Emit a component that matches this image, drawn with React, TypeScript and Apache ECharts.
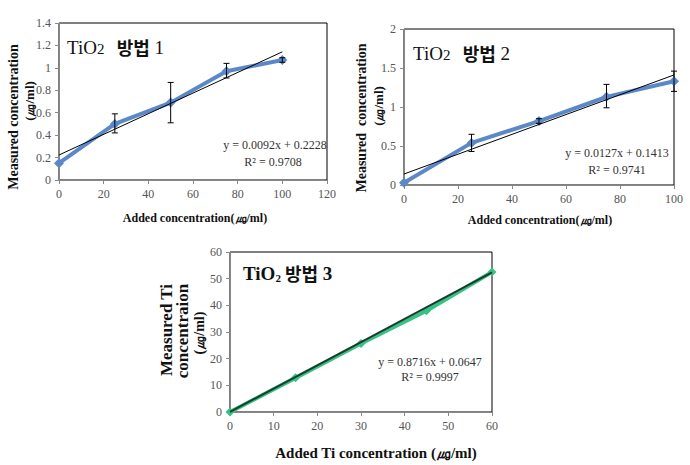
import React, { useEffect, useRef } from "react";
import * as echarts from "echarts";

// Chart 1 (TiO2 방법 1)
const x1 = [0, 25, 50, 75, 100];
const y1 = [0.15, 0.5, 0.69, 0.97, 1.07];
const err1 = [
  [25, 0.42, 0.59],
  [50, 0.51, 0.87],
  [75, 0.91, 1.04],
  [100, 1.05, 1.09],
];
const trend1 = [
  [0, 0.223],
  [100, 1.143],
];
const xTicks1 = [0, 120, 20];
const yTicks1 = [0, 1.4, 0.2];

// Chart 2 (TiO2 방법 2)
const x2 = [0, 25, 50, 75, 100];
const y2 = [0.03, 0.54, 0.82, 1.13, 1.33];
const err2 = [
  [25, 0.43, 0.65],
  [50, 0.79, 0.85],
  [75, 0.99, 1.29],
  [100, 1.2, 1.46],
];
const trend2 = [
  [0, 0.141],
  [100, 1.411],
];
const xTicks2 = [0, 100, 20];
const yTicks2 = [0, 2, 0.5];

// Chart 3 (TiO2 방법 3)
const x3 = [0, 15, 30, 45, 60];
const y3 = [0, 12.8, 25.7, 38.0, 52.5];
const trend3 = [
  [0, 0.065],
  [60, 52.36],
];
const xTicks3 = [0, 60, 10];
const yTicks3 = [0, 60, 10];

const eq1 = ["y = 0.0092x + 0.2228", "R² = 0.9708"];
const eq2 = ["y = 0.0127x + 0.1413", "R² = 0.9741"];
const eq3 = ["y = 0.8716x + 0.0647", "R² = 0.9997"];

const SERIF = "'Liberation Serif', 'Times New Roman', serif";
const KR = "'Noto Sans CJK KR', sans-serif";

const zip = (xs: number[], ys: number[]) => xs.map((x, i) => [x, ys[i]]);

const errRender = (params: any, api: any) => {
  const x = api.value(0);
  const lo = api.value(1);
  const hi = api.value(2);
  const p1 = api.coord([x, lo]);
  const p2 = api.coord([x, hi]);
  const w = 3;
  const st = { stroke: "#000", lineWidth: 1 };
  return {
    type: "group",
    children: [
      { type: "line", shape: { x1: p1[0], y1: p1[1], x2: p2[0], y2: p2[1] }, style: st },
      { type: "line", shape: { x1: p1[0] - w, y1: p1[1], x2: p1[0] + w, y2: p1[1] }, style: st },
      { type: "line", shape: { x1: p2[0] - w, y1: p2[1], x2: p2[0] + w, y2: p2[1] }, style: st },
    ],
  };
};

const mkX = (idx: number, t: number[]) => ({
  type: "value",
  gridIndex: idx,
  min: t[0],
  max: t[1],
  interval: t[2],
  axisLine: { show: true, lineStyle: { color: "#888", width: 1 } },
  axisTick: { show: true, length: 4, lineStyle: { color: "#888" } },
  splitLine: { show: false },
  axisLabel: { color: "#555", fontFamily: SERIF, fontSize: 12, margin: 8 },
});
const mkY = (idx: number, t: number[]) => ({
  type: "value",
  gridIndex: idx,
  min: t[0],
  max: t[1],
  interval: t[2],
  axisLine: { show: true, lineStyle: { color: "#888", width: 1 } },
  axisTick: { show: true, length: 4, lineStyle: { color: "#888" } },
  splitLine: { show: false },
  axisLabel: { color: "#555", fontFamily: SERIF, fontSize: 12, margin: 8 },
});

const rot = (x: number, y: number, text: string, font: string) => ({
  type: "text",
  x,
  y,
  rotation: Math.PI / 2,
  style: { text, font, fill: "#111", align: "center", verticalAlign: "middle" },
});
const txt = (x: number, y: number, text: string, font: string, fill = "#111") => ({
  type: "text",
  x,
  y,
  style: { text, font, fill, align: "center", verticalAlign: "middle" },
});

const title = (x: number, y: number, n: string, bold: boolean, gap: string) => ({
  type: "text",
  x,
  y,
  style: {
    text: `{a|TiO}{s|2}{b|${gap}방법}{c| ${n}}`,
    align: "left",
    verticalAlign: "middle",
    rich: {
      a: { fontFamily: SERIF, fontSize: 19, fontWeight: bold ? "bold" : "normal", fill: "#111" },
      s: {
        fontFamily: SERIF,
        fontSize: bold ? 11 : 15,
        fontWeight: bold ? "bold" : "normal",
        fill: "#111",
        padding: bold ? [10, 0, 0, 0] : [3, 0, 0, 0],
      },
      b: { fontFamily: KR, fontSize: 18, fontWeight: "bold", fill: "#111" },
      c: { fontFamily: SERIF, fontSize: 19, fontWeight: bold ? "bold" : "normal", fill: "#111" },
    },
  },
});

export default function App() {
  const ref = useRef<HTMLDivElement>(null);
  useEffect(() => {
    if (!ref.current) return;
    const chart = echarts.init(ref.current, null, { renderer: "svg" });
    const blue = "#5b88c6";
    const green = "#35c284";
    chart.setOption({
      animation: false,
      backgroundColor: "#fff",
      grid: [
        { left: 59, top: 23, width: 268, height: 157, show: true, borderColor: "#000", borderWidth: 1, backgroundColor: "transparent" },
        { left: 404, top: 29, width: 270, height: 156, show: true, borderColor: "#000", borderWidth: 1, backgroundColor: "transparent" },
        { left: 230, top: 252, width: 262, height: 160, show: true, borderColor: "#000", borderWidth: 1, backgroundColor: "transparent" },
      ],
      xAxis: [mkX(0, xTicks1), mkX(1, xTicks2), mkX(2, xTicks3)],
      yAxis: [mkY(0, yTicks1), mkY(1, yTicks2), mkY(2, yTicks3)],
      series: [
        {
          type: "line",
          xAxisIndex: 0,
          yAxisIndex: 0,
          data: zip(x1, y1),
          symbol: "diamond",
          symbolSize: 10,
          lineStyle: { color: blue, width: 4 },
          itemStyle: { color: blue },
          z: 2,
        },
        {
          type: "line",
          xAxisIndex: 0,
          yAxisIndex: 0,
          data: trend1,
          symbol: "none",
          lineStyle: { color: "#000", width: 1 },
          z: 3,
        },
        {
          type: "custom",
          xAxisIndex: 0,
          yAxisIndex: 0,
          data: err1,
          renderItem: errRender,
          encode: { x: 0, y: [1, 2] },
          z: 4,
        },
        {
          type: "line",
          xAxisIndex: 1,
          yAxisIndex: 1,
          data: zip(x2, y2),
          symbol: "diamond",
          symbolSize: 10,
          lineStyle: { color: blue, width: 4 },
          itemStyle: { color: blue },
          z: 2,
        },
        {
          type: "line",
          xAxisIndex: 1,
          yAxisIndex: 1,
          data: trend2,
          symbol: "none",
          lineStyle: { color: "#000", width: 1 },
          z: 3,
        },
        {
          type: "custom",
          xAxisIndex: 1,
          yAxisIndex: 1,
          data: err2,
          renderItem: errRender,
          encode: { x: 0, y: [1, 2] },
          z: 4,
        },
        {
          type: "line",
          xAxisIndex: 2,
          yAxisIndex: 2,
          data: zip(x3, y3),
          symbol: "diamond",
          symbolSize: 9,
          lineStyle: { color: green, width: 4 },
          itemStyle: { color: green },
          z: 2,
        },
        {
          type: "line",
          xAxisIndex: 2,
          yAxisIndex: 2,
          data: trend3,
          symbol: "none",
          lineStyle: { color: "#1d3b2c", width: 2 },
          z: 3,
        },
      ],
      graphic: [
        title(67, 47, "1", false, "   "),
        title(413, 53, "2", false, "   "),
        title(243, 273, "3", true, " "),
        rot(13, 117, "Measured concentration", `bold 14px ${SERIF}`),
        rot(29, 101, "(㎍/ml)", `bold 13px ${SERIF}`),
        rot(361, 118, "Measured  concentration", `bold 14px ${SERIF}`),
        rot(378, 106, "(㎍/ml)", `bold 13px ${SERIF}`),
        rot(166, 330, "Measured Ti", `bold 17px ${SERIF}`),
        rot(182, 331, "concentraion", `bold 17px ${SERIF}`),
        rot(199, 333, "(㎍/ml)", `bold 14px ${SERIF}`),
        txt(195, 218, "Added concentration(㎍/ml)", `bold 12px ${SERIF}`),
        txt(540, 220, "Added concentration(㎍/ml)", `bold 12px ${SERIF}`),
        txt(376, 453, "Added Ti concentration (㎍/ml)", `bold 15px ${SERIF}`),
        txt(275, 145, eq1[0], `12px ${SERIF}`, "#333"),
        txt(273, 162, eq1[1], `12px ${SERIF}`, "#333"),
        txt(617, 153, eq2[0], `12px ${SERIF}`, "#333"),
        txt(617, 170, eq2[1], `12px ${SERIF}`, "#333"),
        txt(430, 362, eq3[0], `12px ${SERIF}`, "#333"),
        txt(430, 377, eq3[1], `12px ${SERIF}`, "#333"),
      ],
    });
    return () => chart.dispose();
  }, []);
  return (
    <div
      ref={ref}
      style={{ position: "absolute", left: 0, top: 0, width: 690, height: 465 }}
    />
  );
}
